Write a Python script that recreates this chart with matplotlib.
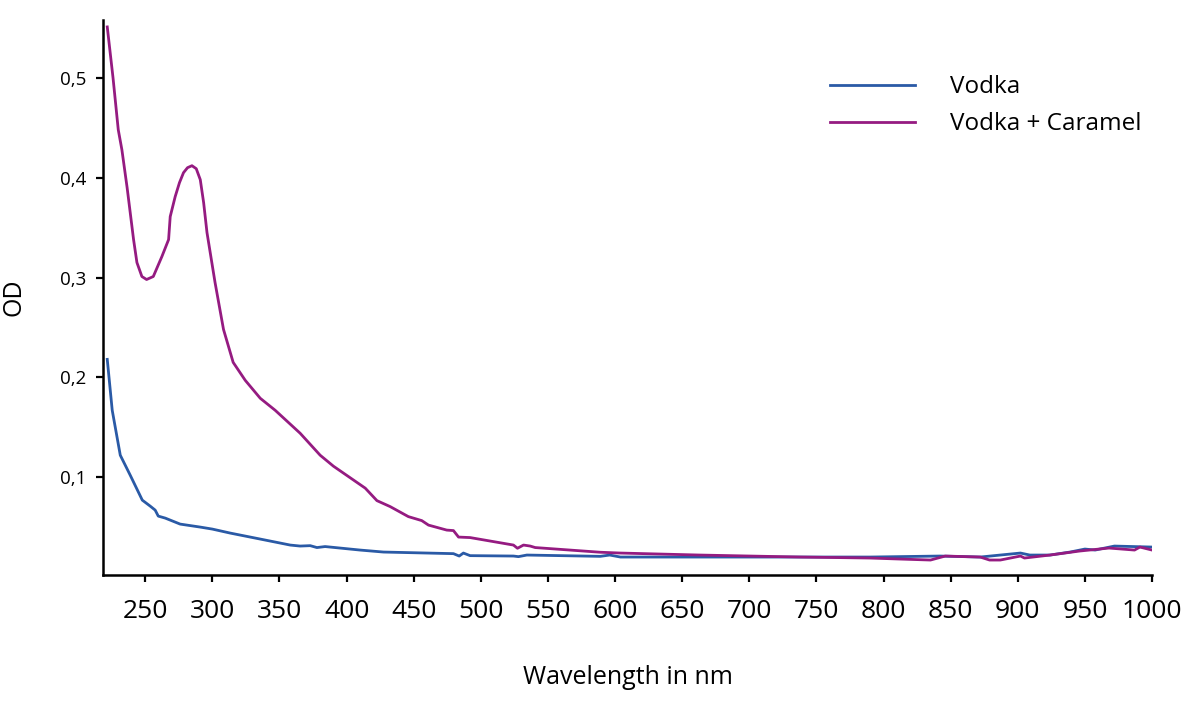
import matplotlib
matplotlib.use("Agg")
import matplotlib.pyplot as plt
from matplotlib.ticker import FuncFormatter

plt.rcParams['font.family'] = ['Open Sans', 'DejaVu Sans']

# Vodka + Caramel (wavelength nm, OD)
caramel_x = [221.7, 226.0, 229.9, 232.6, 236.5, 241.3, 243.8, 247.5, 251.0, 256.0, 262.4,
             267.4, 268.6, 272.3, 275.5, 278.5, 281.5, 284.8, 288.0, 291.0, 293.5, 296.0,
             302.0, 308.3, 315.5, 324.5, 335.7, 346.8, 365.4, 380.3, 390.2, 413.9, 422.6,
             432.5, 446.0, 456.0, 461.0, 474.6, 479.6, 483.4, 492.0, 524.3, 527.3, 531.8,
             536.8, 540.5, 589.0, 604.0, 663.0, 738.0, 790.0, 812.0, 835.0, 846.0, 872.0,
             879.0, 887.0, 902.0, 905.0, 924.0, 946.0, 968.0, 987.0, 991.0, 1000.0]
caramel_y = [0.551, 0.500, 0.448, 0.428, 0.390, 0.338, 0.315, 0.301, 0.298, 0.301, 0.321,
             0.338, 0.361, 0.381, 0.395, 0.405, 0.410, 0.412, 0.409, 0.398, 0.375, 0.345,
             0.295, 0.248, 0.215, 0.197, 0.179, 0.167, 0.144, 0.122, 0.111, 0.089, 0.0765,
             0.0705, 0.0605, 0.0565, 0.052, 0.047, 0.0465, 0.040, 0.0395, 0.032, 0.0288,
             0.032, 0.031, 0.0295, 0.0248, 0.024, 0.022, 0.020, 0.019, 0.018, 0.017, 0.021,
             0.020, 0.017, 0.017, 0.021, 0.019, 0.022, 0.026, 0.029, 0.027, 0.030, 0.027]

# Vodka (wavelength nm, OD)
vodka_x = [221.7, 225.4, 231.4, 238.8, 247.8, 253.7, 257.4, 259.7, 264.9, 276.0, 291.0,
           300.0, 313.3, 335.7, 358.0, 365.4, 372.9, 377.9, 384.0, 410.0, 427.5, 479.6,
           483.9, 487.0, 492.0, 524.3, 528.0, 534.3, 589.0, 596.0, 604.0, 663.0, 738.0,
           790.0, 842.0, 872.0, 887.0, 902.0, 909.0, 924.0, 939.0, 950.0, 957.6, 972.0,
           1000.0]
vodka_y = [0.218, 0.167, 0.122, 0.102, 0.077, 0.071, 0.067, 0.061, 0.059, 0.053, 0.050,
           0.048, 0.044, 0.038, 0.032, 0.031, 0.0314, 0.0295, 0.0305, 0.027, 0.025, 0.0234,
           0.021, 0.024, 0.0214, 0.021, 0.0204, 0.022, 0.0207, 0.022, 0.020, 0.020, 0.020,
           0.020, 0.021, 0.020, 0.022, 0.024, 0.022, 0.022, 0.025, 0.028, 0.027, 0.031,
           0.030]

x_ticks = [250, 300, 350, 400, 450, 500, 550, 600, 650, 700, 750, 800, 850, 900, 950, 1000]
y_ticks = [0.1, 0.2, 0.3, 0.4, 0.5]

blue = '#2a5aa6'
purple = '#951b81'

fig = plt.figure(figsize=(12, 7.12), dpi=100)
ax = fig.add_axes([0.0858, 0.1924, 0.8742, 0.7796])

ax.plot(vodka_x, vodka_y, color=blue, lw=2.0, label='Vodka', solid_joinstyle='round')
ax.plot(caramel_x, caramel_y, color=purple, lw=2.0, label='Vodka + Caramel',
        solid_joinstyle='round')

ax.set_xlim(218.5, 1000)
ax.set_ylim(0.002, 0.558)
ax.set_xticks(x_ticks)
ax.set_yticks(y_ticks)
ax.yaxis.set_major_formatter(FuncFormatter(lambda v, p: f"{v:.1f}".replace('.', ',')))

for s in ['top', 'right']:
    ax.spines[s].set_visible(False)
for s in ['left', 'bottom']:
    ax.spines[s].set_linewidth(1.8)
    ax.spines[s].set_color('black')

ax.tick_params(axis='x', direction='out', length=5, width=1.6, labelsize=19, pad=12)
ax.tick_params(axis='y', direction='out', length=5, width=1.6, labelsize=13.5, pad=7)

ax.set_xlabel('Wavelength in nm', fontsize=18, labelpad=30)
ax.set_ylabel('OD', fontsize=18)
ax.yaxis.set_label_coords(-0.073, 0.5)

leg = ax.legend(loc='upper left', bbox_to_anchor=(0.672, 0.94), frameon=False,
                fontsize=17.5, handlelength=3.5, handletextpad=1.45, labelspacing=0.55)

fig.savefig('out.png', dpi=100)
